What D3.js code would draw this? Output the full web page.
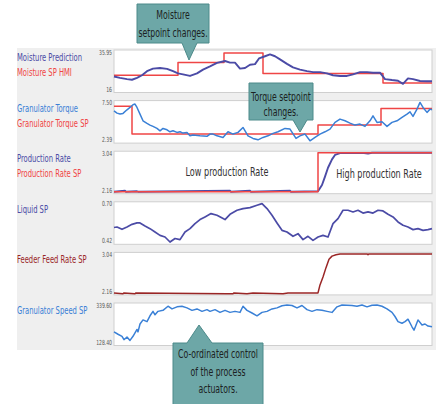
<!DOCTYPE html>
<html>
<head>
<meta charset="utf-8">
<script src="https://cdn.jsdelivr.net/npm/d3@7"></script>
<style>
  body { margin: 0; background: #fff; }
  text { font-family: "Liberation Sans Narrow", "DejaVu Sans Condensed", "Liberation Sans", sans-serif; }
</style>
</head>
<body>
<div id="chart"></div>
<script>
/* global d3 */

// ---- data (t = sample index, values in process units) ----
const moisture = [[0,23.15],[6,22.47],[13,21.84],[18,21.5],[23,22.47],[28,23.79],[33,25.88],[39,27.19],[46,27.53],[53,27.05],[59,25.88],[64,24.76],[69,24.27],[76,23.45],[83,24.76],[89,26.7],[96,28.31],[103,30.11],[111,31.08],[116,30.26],[121,30.26],[126,27.19],[131,27.53],[136,29.14],[141,29.48],[145,32.4],[151,33.52],[156,34.49],[161,33.52],[166,31.91],[173,29.62],[179,27.82],[186,26.7],[193,25.88],[199,25.39],[206,25.39],[213,24.76],[219,23.79],[226,23.45],[233,23.45],[239,24.27],[246,25.39],[253,25.39],[259,25.1],[266,25.1],[271,21.84],[278,21.35],[284,21.01],[289,19.41],[294,22.18],[299,21.84],[306,20.87],[313,20.72],[318,20.72]]
const moistureSp = [[0,23.79],[64,30.26],[110,35.12],[149,24.76],[269,19.89],[318,19.89]]

const torque = [[0,6.36],[3,6.06],[6,5.93],[9,6.02],[13,6.49],[16,6.8],[19,7.15],[21,7.24],[23,6.8],[26,5.93],[29,5.05],[33,4.71],[36,4.49],[39,4.32],[43,4.05],[46,3.74],[49,4.05],[53,3.87],[56,3.61],[59,3.74],[63,3.53],[66,3.61],[69,3.44],[73,3.53],[76,3.08],[79,3.18],[86,3.08],[93,3.01],[96,3.31],[99,3.31],[103,3.08],[109,2.87],[114,3.61],[119,3.31],[124,3.53],[129,4.18],[134,3.08],[139,2.74],[144,2.56],[149,2.87],[154,3.08],[159,3.4],[164,3.61],[171,4.05],[176,3.96],[182,2.74],[186,3.08],[191,3.31],[196,2.43],[201,2.87],[206,3.31],[211,3.61],[216,3.96],[221,4.84],[226,5.27],[231,5.05],[236,4.75],[241,4.49],[246,4.62],[251,4.32],[256,5.05],[259,5.7],[263,4.84],[268,4.92],[273,4.32],[278,4.84],[283,5.05],[288,5.49],[293,5.93],[296,6.23],[299,5.63],[303,6.58],[306,7.46],[309,6.8],[313,6.15],[316,6.58],[318,6.49]]
const torqueSp = [[0,6.94],[18,3.31],[204,4.49],[267,6.67],[318,6.67]]

const prodRate = [[0,2.16],[11,2.18],[12,2.16],[23,2.17],[24,2.16],[116,2.18],[117,2.16],[136,2.18],[137,2.16],[176,2.18],[177,2.16],[204,2.17],[208,2.31],[211,2.5],[214,2.7],[218,2.89],[221,2.99],[226,3.03],[250,3.03],[254,3.02],[258,3.04],[318,3.04]]
const prodRateSp = [[0,2.16],[204,3.04],[318,3.04]]

const liquid = [[0,0.526],[3,0.53],[8,0.513],[13,0.53],[18,0.549],[23,0.559],[26,0.559],[31,0.537],[36,0.518],[41,0.494],[46,0.47],[51,0.458],[56,0.422],[61,0.447],[66,0.439],[71,0.494],[76,0.518],[81,0.554],[86,0.583],[91,0.602],[97,0.626],[103,0.614],[111,0.583],[116,0.621],[123,0.65],[129,0.662],[136,0.669],[143,0.686],[148,0.698],[153,0.662],[158,0.614],[163,0.559],[168,0.506],[173,0.494],[179,0.463],[184,0.482],[189,0.439],[194,0.463],[199,0.434],[204,0.458],[209,0.47],[214,0.458],[219,0.554],[224,0.59],[229,0.65],[234,0.65],[239,0.638],[244,0.65],[249,0.63],[254,0.638],[259,0.63],[264,0.65],[269,0.645],[274,0.621],[279,0.602],[284,0.566],[289,0.542],[294,0.53],[299,0.511],[304,0.518],[309,0.506],[314,0.511],[318,0.518]]

const feeder = [[0,2.16],[9,2.14],[10,2.16],[21,2.14],[22,2.16],[113,2.14],[119,2.14],[120,2.16],[133,2.14],[139,2.16],[169,2.14],[174,2.16],[204,2.16],[206,2.34],[209,2.52],[212,2.73],[215,2.92],[218,2.99],[222,3.02],[226,3.04],[253,3.04],[254,3.02],[255,3.04],[318,3.04]]

const speed = [[0,191.2],[4,178.4],[8,167.3],[10,149],[13,163.4],[16,145.1],[19,167.3],[23,204.5],[24,191.2],[26,234],[29,256.2],[33,246.8],[36,278.5],[39,302.4],[41,284],[44,302.4],[49,307.9],[54,330.2],[58,315.7],[63,326.8],[68,330.2],[73,321.3],[78,307.9],[83,315.7],[88,302.4],[93,311.8],[96,302.4],[101,311.8],[106,296.9],[111,307.9],[116,296.9],[121,302.4],[126,296.9],[129,330.2],[133,307.9],[138,293.5],[143,278.5],[148,296.9],[153,302.4],[158,315.7],[163,321.3],[168,333],[173,337],[178,334],[183,321.3],[188,334],[193,311.8],[198,302.4],[203,311.8],[208,307.9],[213,302.4],[218,296.9],[223,326.8],[228,337],[233,336],[238,334],[243,330.2],[248,337],[253,326.8],[258,336],[263,337],[268,330.2],[273,315.7],[278,296.9],[281,274.6],[284,246.8],[288,237.9],[291,246.8],[294,260.1],[298,219],[300,200.7],[304,256.2],[308,228.4],[311,234],[314,222.9],[318,219]]

const yTicks = [["35.95","16"],["7.50","2.39"],["3.04","2.16"],["0.70","0.42"],["3.04","2.16"],["339.60","128.40"]]
const yDomains = [[16,35.95],[2.39,7.5],[2.16,3.04],[0.42,0.7],[2.16,3.04],[128.4,339.6]]

const purple = '#4b4ba6', red = '#ef4545', blue = '#3a80d6', darkRed = '#9a2626'

const panels = [
  { labels: [['Moisture Prediction', purple], ['Moisture SP HMI', red]],
    series: [{ d: moistureSp, c: red, step: true }, { d: moisture, c: purple, w: 1.9 }] },
  { labels: [['Granulator Torque', blue], ['Granulator Torque SP', red]],
    series: [{ d: torqueSp, c: red, step: true }, { d: torque, c: blue }] },
  { labels: [['Production Rate', purple], ['Production Rate SP', red]],
    series: [{ d: prodRate, c: purple, w: 1.9 }, { d: prodRateSp, c: red, step: true }] },
  { labels: [['Liquid SP', purple]], series: [{ d: liquid, c: purple, w: 1.7 }] },
  { labels: [['Feeder Feed Rate SP', darkRed]], series: [{ d: feeder, c: darkRed }] },
  { labels: [['Granulator Speed SP', blue]], series: [{ d: speed, c: blue }] }
]

// ---- canvas ----
const width = 436, height = 404
const plotLeft = 114, plotRight = 432
const firstTop = 50, panelStep = 50.6, panelH = 42.5
const squeeze = 0.72   // the original font is a narrow one

const svg = d3.select('#chart').append('svg')
  .attr('width', width).attr('height', height)

// narrow text helper
let addText = (parent, tx, ty, str, size, color, anchor) =>
  parent.append('text')
    .attr('transform', 'translate(' + tx + ',' + ty + ') scale(' + squeeze + ',1)')
    .attr('text-anchor', anchor || 'start')
    .attr('font-size', size)
    .attr('fill', color)
    .text(str)

// gray backdrop
svg.append('rect').attr('x', 17).attr('y', 48).attr('width', 419).attr('height', 302)
  .attr('fill', '#efefef')

const x = d3.scaleLinear().domain([0, 318]).range([plotLeft, plotRight])

panels.forEach((p, i) => {
  const top = firstTop + i * panelStep
  const bottom = top + panelH
  const g = svg.append('g')

  g.append('rect')
    .attr('x', plotLeft).attr('y', top)
    .attr('width', plotRight - plotLeft).attr('height', panelH)
    .attr('fill', '#fff').attr('stroke', '#cfcfcf')

  const y = d3.scaleLinear().domain(yDomains[i]).range([bottom - 2, top + 1.5])

  // y tick labels (top and bottom only)
  yTicks[i].forEach((t, k) => {
    addText(g, plotLeft - 2, k === 0 ? top + 4.5 : bottom - 1, t, 7, '#555', 'end')
  })

  // series labels
  p.labels.forEach((l, k) => {
    addText(g, 17, top + 11 + k * 15, l[0], 10.5, l[1])
  })

  p.series.forEach(s => {
    const line = d3.line()
      .x(d => x(d[0]))
      .y(d => y(d[1]))
      .curve(s.step ? d3.curveStepAfter : d3.curveLinear)
    g.append('path')
      .datum(s.d)
      .attr('d', line)
      .attr('fill', 'none')
      .attr('stroke', s.c)
      .attr('stroke-width', s.w || 1.5)
      .attr('stroke-linejoin', 'round')
  })

  if (i === 2) {
    addText(g, x(113), top + 25, 'Low production Rate', 12.5, '#333', 'middle')
    addText(g, x(265), top + 27, 'High production Rate', 12.5, '#333', 'middle')
  }
})

// ---- callouts ----
const callouts = [
  { box: [137, 4, 209, 43], ptr: [182, 197, 189, 60], lines: ['Moisture', 'setpoint changes.'], ty: [19, 37] },
  { box: [249, 83, 313, 120], ptr: [293, 307, 300, 132], lines: ['Torque setpoint', 'changes.'], ty: [101, 116] },
  { box: [173, 343, 263, 406], ptr: [187, 212, 199, 325], lines: ['Co-ordinated control', 'of the process', 'actuators.'], ty: [358, 376, 393], up: true }
]

callouts.forEach(c => {
  const [x0, y0, x1, y1] = c.box
  const [pa, pb, tx, ty] = c.ptr
  let path
  if (c.up) {
    path = `M${x0},${y0} H${pa} L${tx},${ty} L${pb},${y0} H${x1} V${y1} H${x0} Z`
  } else {
    path = `M${x0},${y0} H${x1} V${y1} H${pb} L${tx},${ty} L${pa},${y1} H${x0} Z`
  }
  svg.append('path').attr('d', path)
    .attr('fill', '#6da7a7').attr('stroke', '#4d8a8a').attr('stroke-width', 1)
  c.lines.forEach((t, k) => {
    addText(svg, (x0 + x1) / 2, c.ty[k], t, 12, '#1c2222', 'middle')
  })
})
</script>
</body>
</html>
